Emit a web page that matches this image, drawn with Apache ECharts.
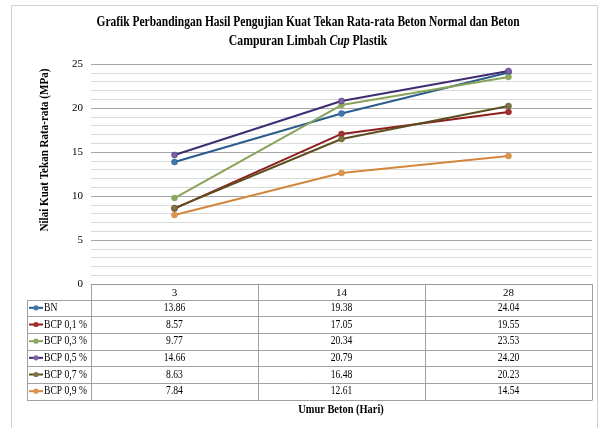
<!DOCTYPE html>
<html>
<head>
<meta charset="utf-8">
<script src="https://cdn.jsdelivr.net/npm/echarts@6/dist/echarts.min.js"></script>
<style>html,body{margin:0;padding:0;background:#fff}#c{width:601px;height:428px}</style>
</head>
<body>
<div id="c"></div>
<script>
const categories = ['3', '14', '28'];
const seriesNames = ['BN', 'BCP 0,1 %', 'BCP 0,3 %', 'BCP 0,5 %', 'BCP 0,7 %', 'BCP 0,9 %'];
const bn = [13.86, 19.38, 24.04];
const bcp01 = [8.57, 17.05, 19.55];
const bcp03 = [9.77, 20.34, 23.53];
const bcp05 = [14.66, 20.79, 24.20];
const bcp07 = [8.63, 16.48, 20.23];
const bcp09 = [7.84, 12.61, 14.54];
const seriesValues = [bn, bcp01, bcp03, bcp05, bcp07, bcp09];
const lineColors = ['#2A5C8C', '#8E1D1D', '#8AA35A', '#3F2D72', '#5C4F1F', '#D4873C'];
const markerColors = ['#3F78AE', '#A33030', '#8DA863', '#7E62A6', '#7D7548', '#D99550'];
const titleLine1 = 'Grafik Perbandingan Hasil Pengujian Kuat Tekan Rata-rata Beton Normal dan Beton';
const titleLine2 = 'Campuran Limbah {i|Cup} Plastik';
const yName = 'Nilai Kuat Tekan Rata-rata (MPa)';
const xName = 'Umur Beton (Hari)';

const FONT = '"Liberation Serif", "Times New Roman", serif';
const SX = 0.8;

const chart = echarts.init(document.getElementById('c'), null, {renderer: 'canvas'});

function scaledText(x, y, text, opts) {
  opts = opts || {};
  return {
    type: 'group', x: x, y: y, scaleX: opts.scaleX || SX, rotation: opts.rotation || 0,
    children: [{
      type: 'text',
      style: {
        text: text, x: 0, y: 0,
        align: opts.align || 'center', verticalAlign: 'middle',
        fontFamily: FONT, fontSize: opts.fontSize || 12,
        fontWeight: opts.bold ? 'bold' : 'normal',
        fill: opts.fill || '#000',
        rich: opts.rich
      }
    }]
  };
}

chart.setOption({
  animation: false,
  grid: {left: 91, right: 9, top: 64, bottom: 144},
  xAxis: {
    type: 'category', data: categories, boundaryGap: true,
    axisLine: {show: true, lineStyle: {color: '#9A9A9A'}},
    axisTick: {show: false},
    axisLabel: {margin: 4, fontFamily: FONT, fontSize: 11, color: '#000'}
  },
  yAxis: {
    type: 'value', min: 0, max: 25, interval: 5,
    axisLine: {show: false}, axisTick: {show: false},
    axisLabel: {margin: 8, fontFamily: FONT, fontSize: 11, color: '#000'},
    splitLine: {show: true, lineStyle: {color: '#A6A6A6', width: 1}},
    minorTick: {show: false, splitNumber: 5},
    minorSplitLine: {show: true, lineStyle: {color: '#DADADA', width: 1}}
  },
  series: seriesValues.map((vals, i) => ({
    name: seriesNames[i], type: 'line', data: vals,
    symbol: 'circle', symbolSize: 6,
    lineStyle: {color: lineColors[i], width: 2},
    itemStyle: {color: markerColors[i], borderColor: lineColors[i], borderWidth: 0.5}
  }))
});

function buildGraphics() {
  const cx = categories.map(c => chart.convertToPixel({xAxisIndex: 0}, c));
  const band = cx[1] - cx[0];
  const colEdges = [cx[0] - band / 2];
  cx.forEach(c => colEdges.push(c + band / 2));
  const tableLeft = 27;
  const headerTop = 284;
  const headerBottom = 299.5;
  const rowH = 16.67;
  const tableBottom = headerBottom + rowH * seriesNames.length;
  const lc = '#A0A0A0';
  const els = [];
  els.push({type: 'rect', shape: {x: 11.5, y: 5.5, width: 586, height: 430}, style: {fill: 'none', stroke: '#D0D0D0', lineWidth: 1}, z: 0});
  for (let k = 0; k <= seriesNames.length; k++) {
    const y = Math.round(headerBottom + rowH * k) + 0.5;
    els.push({type: 'line', shape: {x1: tableLeft, y1: y, x2: colEdges[colEdges.length - 1], y2: y}, style: {stroke: lc, lineWidth: 1}});
  }
  els.push({type: 'line', shape: {x1: tableLeft + 0.5, y1: Math.round(headerBottom) + 0.5, x2: tableLeft + 0.5, y2: Math.round(tableBottom) + 0.5}, style: {stroke: lc, lineWidth: 1}});
  colEdges.forEach(x => {
    const xx = Math.round(x) + 0.5;
    els.push({type: 'line', shape: {x1: xx, y1: headerTop, x2: xx, y2: Math.round(tableBottom) + 0.5}, style: {stroke: lc, lineWidth: 1}});
  });
  seriesNames.forEach((name, i) => {
    const yc = headerBottom + rowH * i + rowH / 2;
    els.push({type: 'line', shape: {x1: 29, y1: yc, x2: 43, y2: yc}, style: {stroke: lineColors[i], lineWidth: 2}});
    els.push({type: 'circle', shape: {cx: 36, cy: yc, r: 2.6}, style: {fill: markerColors[i]}});
    els.push(scaledText(44, yc, name, {align: 'left', fontSize: 12}));
    seriesValues[i].forEach((v, j) => {
      els.push(scaledText(cx[j], yc, v.toFixed(2), {fontSize: 12}));
    });
  });
  els.push(scaledText(308, 22, titleLine1, {bold: true, fontSize: 14, scaleX: 0.82}));
  els.push(scaledText(308, 41, titleLine2, {bold: true, fontSize: 14, scaleX: 0.84,
    rich: {i: {fontStyle: 'italic', fontWeight: 'bold', fontFamily: FONT, fontSize: 14}}}));
  els.push(scaledText(341, 410, xName, {bold: true, fontSize: 13, scaleX: 0.8}));
  els.push({
    type: 'group', x: 45, y: 150, rotation: Math.PI / 2,
    children: [{type: 'group', scaleX: 0.85, children: [{
      type: 'text',
      style: {text: yName, x: 0, y: 0, align: 'center', verticalAlign: 'middle', fontFamily: FONT, fontSize: 13, fontWeight: 'bold', fill: '#000'}
    }]}]
  });
  chart.setOption({graphic: {elements: els}});
}
buildGraphics();
</script>
</body>
</html>
